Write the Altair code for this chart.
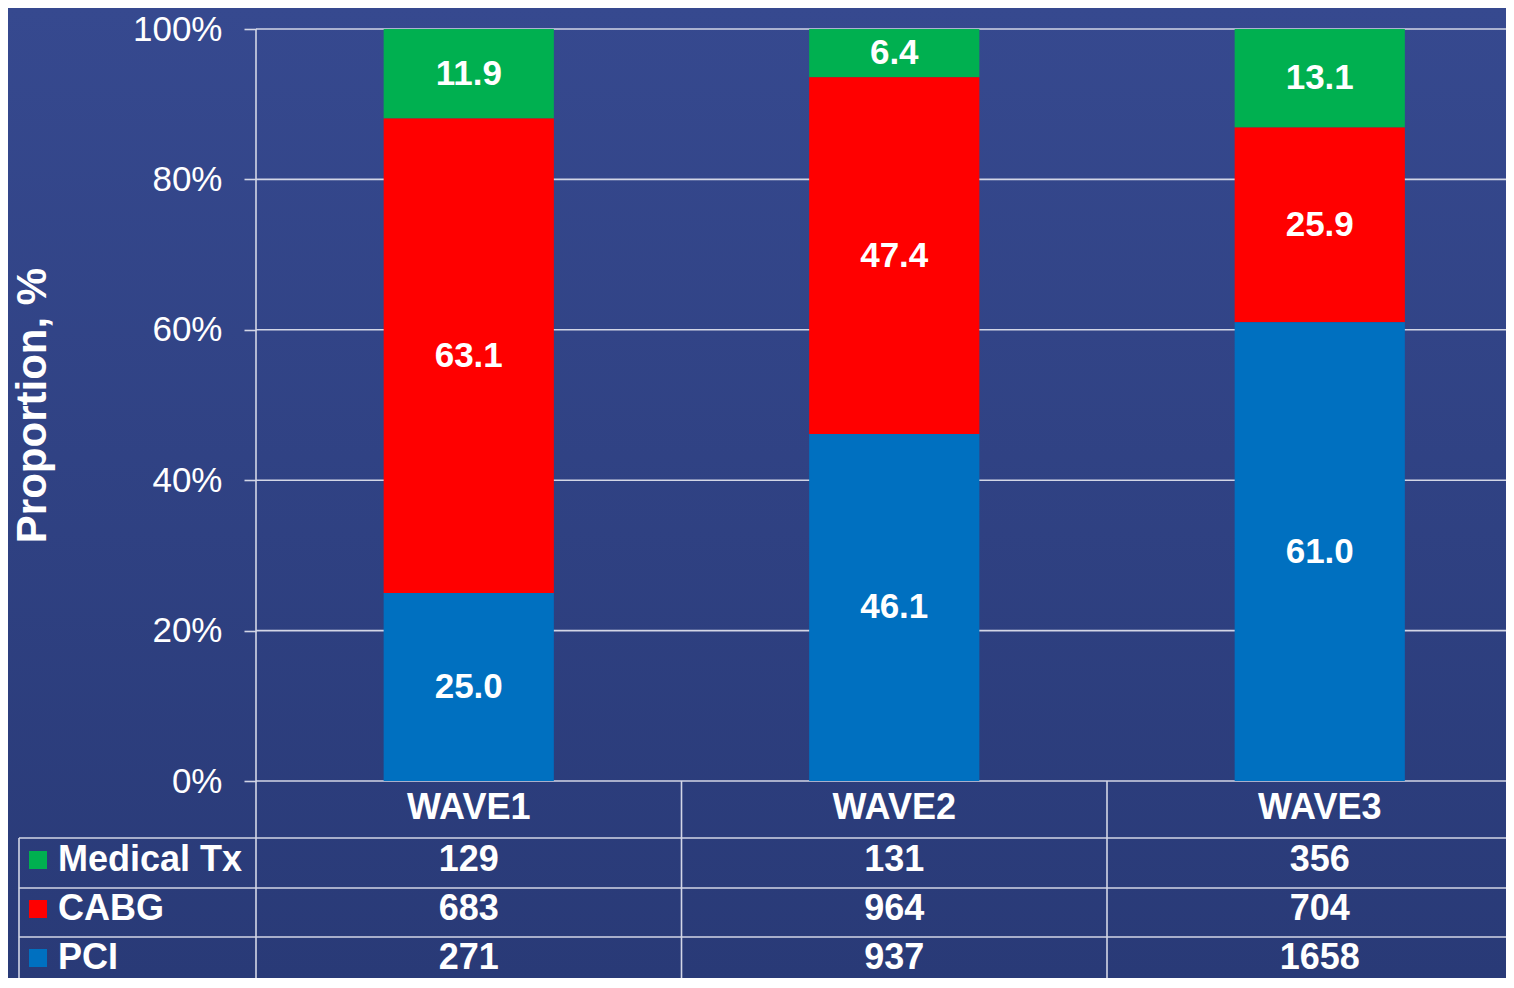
import altair as alt
import pandas as pd

# ---- data ----
waves = ["WAVE1", "WAVE2", "WAVE3"]
categories = ["Medical Tx", "CABG", "PCI"]          # table row order (top to bottom)
stack_order = {"PCI": 0, "CABG": 1, "Medical Tx": 2}  # bottom to top in bars
pct_medical = [11.9, 6.4, 13.1]
pct_cabg = [63.1, 47.4, 25.9]
pct_pci = [25.0, 46.1, 61.0]
n_medical = [129, 131, 356]
n_cabg = [683, 964, 704]
n_pci = [271, 937, 1658]
grid_ticks = [0, 0.2, 0.4, 0.6, 0.8, 1.0]

rows = []
for i, w in enumerate(waves):
    for cat, pct, n in [("Medical Tx", pct_medical[i], n_medical[i]),
                        ("CABG", pct_cabg[i], n_cabg[i]),
                        ("PCI", pct_pci[i], n_pci[i])]:
        rows.append({"wave": w, "cat": cat, "pct": pct, "n": n, "order": stack_order[cat]})
df = pd.DataFrame(rows)
cat_df = pd.DataFrame({"cat": categories})
tick_df = pd.DataFrame({"v": grid_ticks})

# ---- layout ----
W, H = 1250, 752
PAD = {"left": 248, "top": 21, "right": 0, "bottom": 197}
BOTTOM = H + PAD["bottom"]
STEP = 425.5
ROW_LINES = [809, 859, 908]
ROW_Y = [831, 880, 929]
HEADER_Y = 779
LINE = "#d3d6e6"
FONT = "Liberation Sans"

xscale = alt.Scale(domain=waves, range=[0, 3 * STEP], paddingInner=0.6, paddingOuter=0.3)
yscale = alt.Scale(domain=[0, 1], nice=False)
cscale = alt.Scale(domain=["Medical Tx", "CABG", "PCI"], range=["#00b050", "#ff0000", "#0070c0"])

yaxis = alt.Axis(
    values=grid_ticks, format=".0%", grid=False, domain=False,
    ticks=True, tickSize=12, tickColor=LINE, tickWidth=1.6,
    labelFontSize=35, labelFont=FONT, labelColor="#ffffff", labelPadding=22,
    labelFontWeight="normal",
    title="Proportion, %", titleFont=FONT, titleFontSize=42, titleFontWeight="bold",
    titleColor="#ffffff", titleAngle=-90, titleX=-224, titleY=H / 2,
    titleAlign="center", titleBaseline="middle", zindex=1,
)

one = pd.DataFrame({"a": [0]})

bg = alt.Chart(one).mark_rect(
    fill=alt.Gradient(
        gradient="linear",
        stops=[alt.GradientStop(color="#36498f", offset=0),
               alt.GradientStop(color="#293a77", offset=1)],
        x1=0, x2=0, y1=0, y2=1),
).encode(x=alt.value(-PAD["left"]), x2=alt.value(W), y=alt.value(-PAD["top"]), y2=alt.value(BOTTOM))

grid = alt.Chart(tick_df).mark_rule(color=LINE, strokeWidth=1.6).encode(
    y=alt.Y("v:Q", scale=yscale, axis=yaxis),
    x=alt.value(0), x2=alt.value(W),
)

base = alt.Chart(df).transform_stack(
    stack="pct", as_=["y0", "y1"], groupby=["wave"],
    sort=[alt.SortField("order", order="ascending")], offset="normalize",
).transform_calculate(ymid="(datum.y0 + datum.y1) / 2")

bars = base.mark_bar().encode(
    x=alt.X("wave:N", scale=xscale, axis=None),
    y=alt.Y("y0:Q", scale=yscale, axis=yaxis),
    y2="y1:Q",
    color=alt.Color("cat:N", scale=cscale, legend=None),
)

labels = base.mark_text(font=FONT, fontSize=35, fontWeight="bold", color="white",
                        baseline="middle", align="center").encode(
    x=alt.X("wave:N", scale=xscale, axis=None),
    y=alt.Y("ymid:Q", scale=yscale, axis=yaxis),
    text=alt.Text("pct:Q", format=".1f"),
)

# table lines
def rule(x, x2, y, y2):
    return alt.Chart(one).mark_rule(color=LINE, strokeWidth=1.6).encode(
        x=alt.value(x), x2=alt.value(x2), y=alt.value(y), y2=alt.value(y2))

table_lines = [
    rule(0, 0, 0, BOTTOM),
    rule(STEP, STEP, H, BOTTOM),
    rule(2 * STEP, 2 * STEP, H, BOTTOM),
    rule(-237, -237, ROW_LINES[0], BOTTOM),
] + [rule(-237, W, ly, ly) for ly in ROW_LINES]

header = alt.Chart(pd.DataFrame({"wave": waves})).mark_text(
    font=FONT, fontSize=36, fontWeight="bold", color="white", baseline="middle", align="center"
).encode(x=alt.X("wave:N", scale=xscale, axis=None), y=alt.value(HEADER_Y), text="wave:N")

table_layers = []
for cat, ry in zip(categories, ROW_Y):
    table_layers.append(
        alt.Chart(df).transform_filter(alt.datum.cat == cat).mark_text(
            font=FONT, fontSize=36, fontWeight="bold", color="white", baseline="middle", align="center"
        ).encode(x=alt.X("wave:N", scale=xscale, axis=None), y=alt.value(ry), text="n:Q")
    )
    table_layers.append(
        alt.Chart(cat_df).transform_filter(alt.datum.cat == cat).mark_text(
            font=FONT, fontSize=36, fontWeight="bold", color="white", baseline="middle", align="left"
        ).encode(x=alt.value(-198), y=alt.value(ry), text="cat:N")
    )
    table_layers.append(
        alt.Chart(cat_df).transform_filter(alt.datum.cat == cat).mark_square(
            size=324, opacity=1, filled=True
        ).encode(x=alt.value(-218), y=alt.value(ry),
                 color=alt.Color("cat:N", scale=cscale, legend=None))
    )

chart = alt.layer(bg, grid, bars, labels, *table_lines, header, *table_layers).properties(
    width=W, height=H, autosize=alt.AutoSizeParams(type="none"), padding=PAD,
    background="#31448a",
).configure_view(stroke=None)

chart.save("out.html", embed_options={"renderer": "svg", "actions": False})
